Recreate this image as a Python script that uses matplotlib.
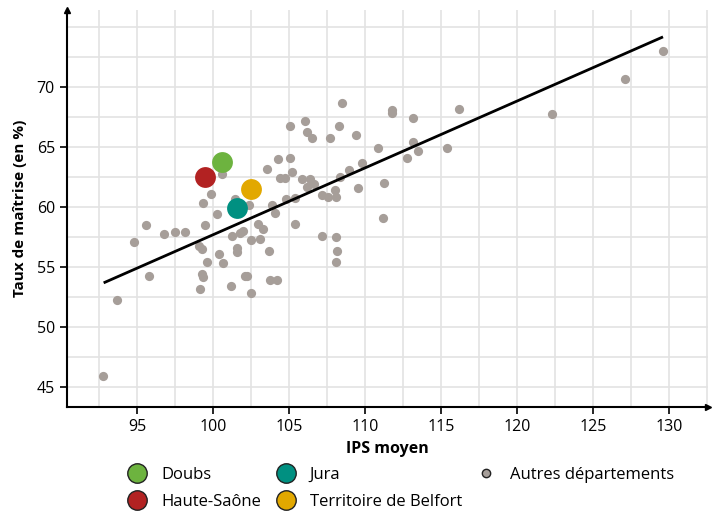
import matplotlib
matplotlib.use("Agg")
import matplotlib.pyplot as plt
from matplotlib.lines import Line2D

plt.rcParams['font.family'] = ['Open Sans', 'DejaVu Sans']

# IPS moyen / taux de maitrise des autres departements
ips_autres = [92.76, 93.68, 94.78, 95.77, 95.59, 96.78, 97.48, 98.18, 99.1, 99.25,
              99.25, 99.36, 99.17, 99.58, 99.47, 99.36, 99.87, 100.26, 100.39, 100.66,
              101.18, 101.27, 101.58, 101.58, 101.78, 101.99, 102.12, 102.26, 102.48, 102.48,
              103.09, 102.96, 103.27, 103.68, 103.77, 104.21, 103.9, 104.1, 104.77, 105.37,
              105.37, 102.38, 101.45, 100.57, 105.07, 104.24, 105.07, 103.57, 105.18, 104.41,
              104.71, 108.47, 111.8, 111.8, 116.18, 106.05, 108.27, 113.18, 106.16, 106.49,
              107.68, 109.39, 113.18, 113.51, 110.88, 112.76, 115.39, 105.88, 106.36, 106.16,
              106.66, 108.36, 108.97, 109.78, 111.27, 109.56, 107.15, 107.59, 108.03, 108.09,
              111.18, 107.17, 108.09, 108.18, 108.09, 122.28, 127.09, 129.59]
taux_autres = [45.94, 52.25, 57.13, 54.3, 58.53, 57.75, 57.94, 57.94, 56.8, 56.5,
               54.4, 54.15, 53.17, 55.44, 58.53, 60.33, 61.1, 59.42, 56.13, 55.36,
               53.44, 57.61, 56.58, 56.3, 57.83, 58.03, 54.3, 54.3, 57.25, 52.83,
               57.33, 58.6, 58.17, 56.33, 53.94, 53.94, 60.15, 59.55, 60.67, 60.75,
               58.62, 60.18, 60.7, 62.8, 66.8, 64.0, 64.13, 63.22, 62.92, 62.42,
               62.42, 68.72, 68.1, 67.83, 68.19, 67.22, 66.8, 67.42, 66.25, 65.8,
               65.75, 66.03, 65.47, 64.72, 64.92, 64.13, 64.92, 62.36, 62.36, 61.67,
               61.94, 62.55, 63.11, 63.72, 62.0, 61.63, 61.03, 60.89, 61.44, 60.83,
               59.13, 57.64, 57.56, 56.36, 55.44, 67.8, 70.69, 73.0]

# departements mis en avant
noms = ["Doubs", "Haute-Saône", "Jura", "Territoire de Belfort"]
ips_dep = [100.57, 99.47, 101.58, 102.48]
taux_dep = [63.8, 62.53, 59.97, 61.53]
couleurs = ["#6db33f", "#b22222", "#009081", "#e2a800"]

# droite de tendance
tendance_x = [92.8, 129.6]
tendance_y = [53.7, 74.2]

gris = "#a69e99"

fig = plt.figure(figsize=(7.2, 5.12), dpi=100)
ax = fig.add_axes([66.7 / 720, 1 - 406.7 / 512, (708 - 66.7) / 720, (406.7 - 10) / 512])

ax.scatter(ips_autres, taux_autres, s=44, color=gris, linewidths=0, zorder=3)
ax.plot(tendance_x, tendance_y, color="black", lw=2, zorder=4, solid_capstyle="butt")
for x, y, c in zip(ips_dep, taux_dep, couleurs):
    ax.scatter([x], [y], s=225, color=c, linewidths=0, zorder=5)

ax.set_xlim(90.37, 132.56)
ax.set_ylim(43.38, 76.44)
ax.set_xticks(range(95, 131, 5))
ax.set_yticks(range(45, 71, 5))
ax.set_xticks([92.5 + 2.5 * i for i in range(17)], minor=True)
ax.set_yticks([45 + 2.5 * i for i in range(13)], minor=True)
ax.grid(True, which="both", color="#e3e3e3", lw=1.2, zorder=0)
ax.tick_params(which="minor", length=0)
ax.tick_params(which="major", length=5, width=1.2, labelsize=11.5, colors="black")
for s in ["top", "right"]:
    ax.spines[s].set_visible(False)
for s in ["left", "bottom"]:
    ax.spines[s].set_linewidth(1.5)
ax.plot(1, 0, ">", color="black", ms=5, transform=ax.transAxes, clip_on=False)
ax.plot(0, 1, "^", color="black", ms=5, transform=ax.transAxes, clip_on=False)

ax.set_xlabel("IPS moyen", fontsize=11.5, fontweight="bold", labelpad=5)
ax.set_ylabel("Taux de maîtrise (en %)", fontsize=11, fontweight="bold", labelpad=7)

handles = [Line2D([], [], ls="", marker="o", ms=14, markerfacecolor=c,
                  markeredgecolor="#222222", markeredgewidth=1) for c in couleurs]
handles.append(Line2D([], [], ls="", marker="o", ms=6, markerfacecolor=gris,
                      markeredgecolor="#222222", markeredgewidth=1))
labels = noms + ["Autres départements"]
fig.legend(handles, labels, loc="upper center", bbox_to_anchor=(0.557, 0.118), ncol=3,
           frameon=False, fontsize=12, handletextpad=0.85, columnspacing=0.85,
           labelspacing=0.7, handlelength=1.2)

plt.savefig("out.png", dpi=100)
